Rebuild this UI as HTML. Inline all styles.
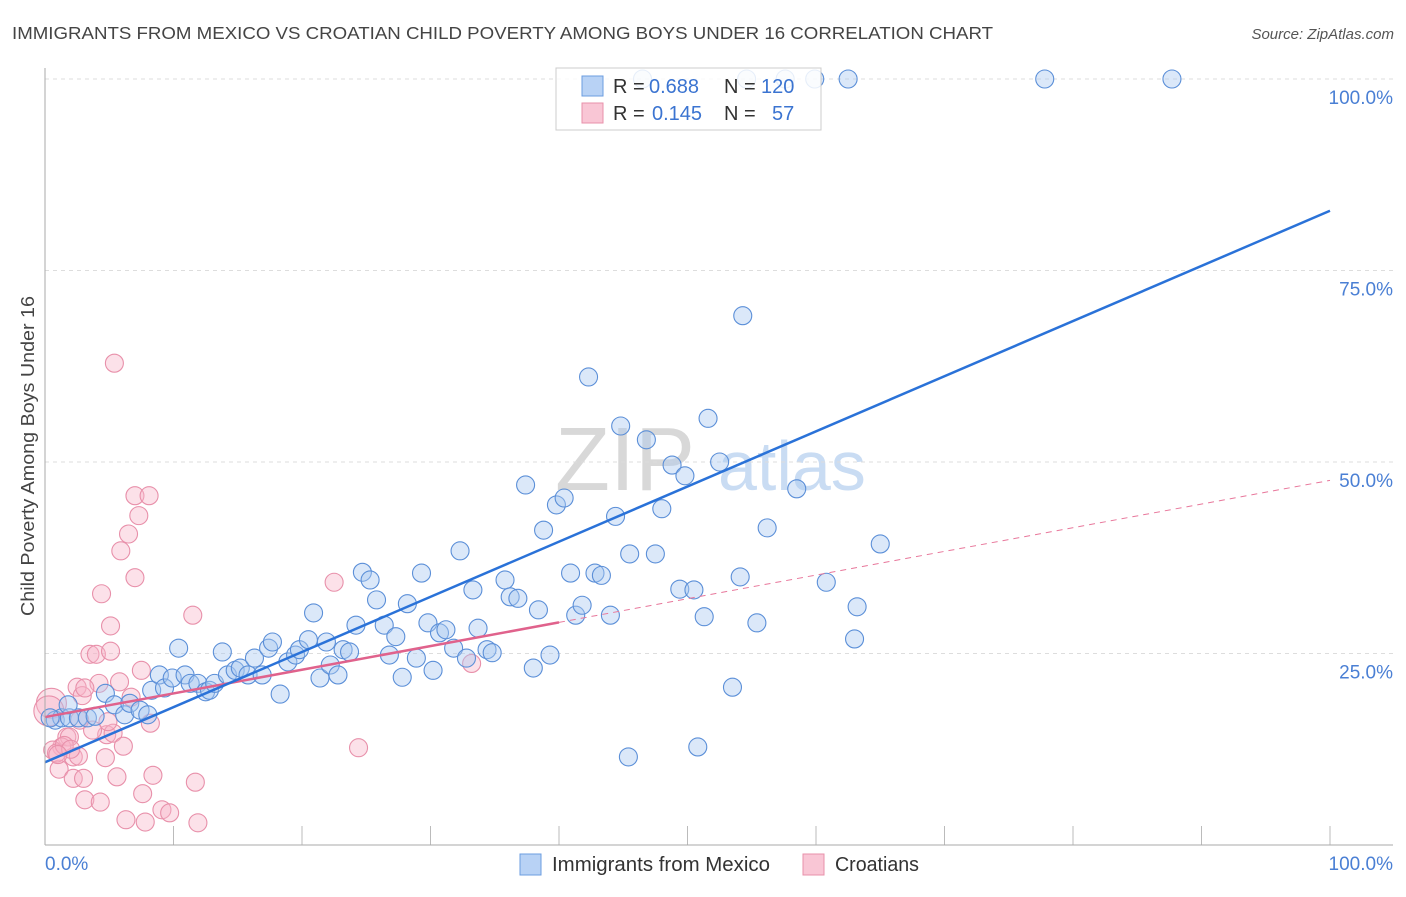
<!DOCTYPE html>
<html><head><meta charset="utf-8"><style>
body{margin:0;background:#fff;font-family:"Liberation Sans",sans-serif}
svg text{font-family:"Liberation Sans",sans-serif}
</style></head><body>
<svg id="chart" width="1406" height="892">
<text x="12" y="39" font-size="17.5" fill="#444" textLength="981" lengthAdjust="spacingAndGlyphs">IMMIGRANTS FROM MEXICO VS CROATIAN CHILD POVERTY AMONG BOYS UNDER 16 CORRELATION CHART</text>
<text x="1394" y="39" font-size="15" fill="#555" font-style="italic" text-anchor="end">Source: ZipAtlas.com</text>
<text transform="translate(34,456) rotate(-90)" font-size="18" fill="#444" text-anchor="middle" textLength="320" lengthAdjust="spacingAndGlyphs">Child Poverty Among Boys Under 16</text>
<text x="555" y="490" font-size="90" fill="#d8d8d8" font-family="Liberation Serif">ZIP</text>
<text x="718" y="490" font-size="70" fill="#c9dcf3">atlas</text>
<g id="grid"></g><g id="pts"></g><g id="lines"></g>
<line x1="45" y1="68" x2="45" y2="845" stroke="#aaa"/>
<line x1="45" y1="845" x2="1393" y2="845" stroke="#aaa"/>
<text x="45" y="870" font-size="19" fill="#4a7fd4">0.0%</text>
<text x="1393" y="870" font-size="19" fill="#4a7fd4" text-anchor="end">100.0%</text>
<g>
<rect x="520" y="854" width="21" height="21" fill="#b8d2f5" stroke="#6b9de0"/>
<text x="552" y="871" font-size="20" fill="#333" textLength="218" lengthAdjust="spacingAndGlyphs">Immigrants from Mexico</text>
<rect x="803" y="854" width="21" height="21" fill="#f9c6d5" stroke="#e890aa"/>
<text x="835" y="871" font-size="20" fill="#333" textLength="84" lengthAdjust="spacingAndGlyphs">Croatians</text>
</g>
<g>
<rect x="556" y="68" width="265" height="62" fill="#fff" fill-opacity="0.85" stroke="#ccc"/>
<rect x="582" y="76" width="21" height="20" fill="#b8d2f5" stroke="#6b9de0"/>
<text x="613" y="93" font-size="20" fill="#333">R =</text>
<text x="649" y="93" font-size="20" fill="#3b74d1">0.688</text>
<text x="724" y="93" font-size="20" fill="#333">N =</text>
<text x="761" y="93" font-size="20" fill="#3b74d1">120</text>
<rect x="582" y="103" width="21" height="20" fill="#f9c6d5" stroke="#e890aa"/>
<text x="613" y="120" font-size="20" fill="#333">R =</text>
<text x="652" y="120" font-size="20" fill="#3b74d1">0.145</text>
<text x="724" y="120" font-size="20" fill="#333">N =</text>
<text x="772" y="120" font-size="20" fill="#3b74d1">57</text>
</g>
</svg>
<script>
const yTicks=[25,50,75,100];
const yTickLabels=["25.0%","50.0%","75.0%","100.0%"];
const xTicks=[10,20,30,40,50,60,70,80,90,100];
const blueX=[0.8,1.3,1.9,2.6,3.3,3.9,4.7,5.4,6.2,6.6,7.4,8.0,8.3,8.9,9.3,9.9,10.4,10.9,11.3,11.9,12.5,12.8,13.2,13.8,14.2,14.8,15.2,15.8,16.3,16.9,17.4,17.7,18.3,18.9,19.5,19.8,20.5,20.9,21.4,21.9,22.2,22.8,23.2,23.7,24.2,24.7,25.3,25.8,26.4,26.8,27.3,27.8,28.2,28.9,29.3,29.8,30.2,30.7,31.2,31.8,32.3,32.8,33.3,33.7,34.4,34.8,35.8,36.2,36.8,37.4,38.0,38.4,38.8,39.3,39.8,40.4,40.9,41.3,41.8,42.3,42.8,43.3,44.0,44.4,44.8,45.4,45.5,46.8,47.5,48.0,48.8,49.4,49.8,50.5,50.8,51.3,51.6,52.5,53.5,54.1,54.3,55.4,56.2,58.5,60.8,63.0,63.2,65.0,46.5,54.6,57.6,59.9,62.5,77.8,87.7,0.4,1.8];
const blueY=[16.3,16.6,16.6,16.6,16.6,16.8,19.8,18.3,17.0,18.5,17.6,17.0,20.2,22.2,20.5,21.8,25.7,22.2,21.1,21.1,20.0,20.2,21.1,25.2,22.2,22.8,23.1,22.2,24.4,22.2,25.7,26.5,19.7,23.9,24.8,25.5,26.8,30.3,21.8,26.5,23.5,22.2,25.5,25.2,28.7,35.6,34.6,32.0,28.7,24.8,27.2,21.9,31.5,24.4,35.5,29.0,22.8,27.7,28.1,25.7,38.4,24.4,33.3,28.3,25.5,25.1,34.6,32.4,32.2,47.0,23.1,30.7,41.1,24.8,44.4,45.3,35.5,30.0,31.3,61.1,35.5,35.2,30.0,42.9,54.7,11.5,38.0,52.9,38.0,43.9,49.6,33.4,48.2,33.3,12.8,29.8,55.7,50.0,20.6,35.0,69.1,29.0,41.4,46.5,34.3,26.9,31.1,39.3,100,100,100,100,100,100,100,16.6,18.3];
const pinkX=[7.0,8.1,7.3,6.5,5.9,7.0,4.4,22.5,11.5,5.1,3.5,4.0,5.1,7.5,2.5,2.9,4.2,5.8,6.7,8.2,0.5,1.7,1.9,1.3,0.6,2.2,2.6,4.8,5.3,6.1,4.7,1.1,2.2,3.0,5.6,8.4,11.7,3.1,4.3,7.6,9.1,9.7,6.3,7.8,11.9,24.4,5.4,33.2,3.1,4.9,3.7,2.7,0.9,1.5,2.0,1.0,0.3];
const pinkY=[45.6,45.6,43.0,40.6,38.4,34.9,32.8,34.3,30.0,28.6,24.9,24.9,25.3,22.8,20.6,19.5,21.1,21.3,19.3,15.9,18.5,14.1,14.1,12.8,12.4,11.5,11.6,14.4,14.6,12.9,11.4,9.9,8.7,8.7,8.9,9.1,8.2,5.9,5.6,6.7,4.6,4.2,3.3,3.0,2.9,12.7,62.9,23.7,20.5,16.1,15.0,16.3,12.0,13.0,12.5,11.8,17.5];
const bigBlue=[117,118];
const bigPink=[20,56];
const blueTrend=[10.8,82.8];
const pinkTrend=[16.7,47.6];
const pinkSolidEnd=40;
const X0=45,X1=1330,Y0=845,Y100=79;
const sx=v=>X0+(X1-X0)*v/100;
const sy=v=>Y0-(Y0-Y100)*v/100;
const NS="http://www.w3.org/2000/svg";
function mk(tag,attrs,parent){const e=document.createElementNS(NS,tag);for(const k in attrs)e.setAttribute(k,attrs[k]);parent.appendChild(e);return e;}
const grid=document.getElementById('grid');
yTicks.forEach((t,i)=>{
  const l=mk('line',{x1:45,x2:1393,y1:sy(t),y2:sy(t),stroke:'#ddd','stroke-dasharray':'4,4'},grid);
  
  
  const tx=mk('text',{x:1393,y:sy(t)+25,'font-size':19,fill:'#4a7fd4','text-anchor':'end'},grid);
  tx.textContent=yTickLabels[i];
  
  
});
xTicks.forEach(t=>{
  const l=mk('line',{x1:sx(t),x2:sx(t),y1:826,y2:845,stroke:'#bbb'},grid);
  
  
});
const pts=document.getElementById('pts');
pinkX.forEach((x,i)=>{
  const c=mk('circle',{cx:sx(x),cy:sy(pinkY[i]),r:bigPink.includes(i)?15:9,fill:'#f7b5c8','fill-opacity':0.4,stroke:'#e890aa','stroke-width':1.1},pts);
  
  
});
blueX.forEach((x,i)=>{
  const c=mk('circle',{cx:sx(x),cy:sy(blueY[i]),r:bigBlue.includes(i)?15:9,fill:'#a9c8f0','fill-opacity':0.42,stroke:'#5b8fd8','stroke-width':1.1},pts);
  
  
});
const lines=document.getElementById('lines');
const pv=x=>pinkTrend[0]+(pinkTrend[1]-pinkTrend[0])*x/100;
const pd=mk('line',{x1:sx(pinkSolidEnd),y1:sy(pv(pinkSolidEnd)),x2:sx(100),y2:sy(pinkTrend[1]),stroke:'#e8779b','stroke-width':1,'stroke-dasharray':'6,5'},lines);


const ps=mk('line',{x1:sx(0),y1:sy(pinkTrend[0]),x2:sx(pinkSolidEnd),y2:sy(pv(pinkSolidEnd)),stroke:'#e0628c','stroke-width':2.5},lines);


const bl=mk('line',{x1:sx(0),y1:sy(blueTrend[0]),x2:sx(100),y2:sy(blueTrend[1]),stroke:'#2a72d8','stroke-width':2.5},lines);


</script>
</body></html>
